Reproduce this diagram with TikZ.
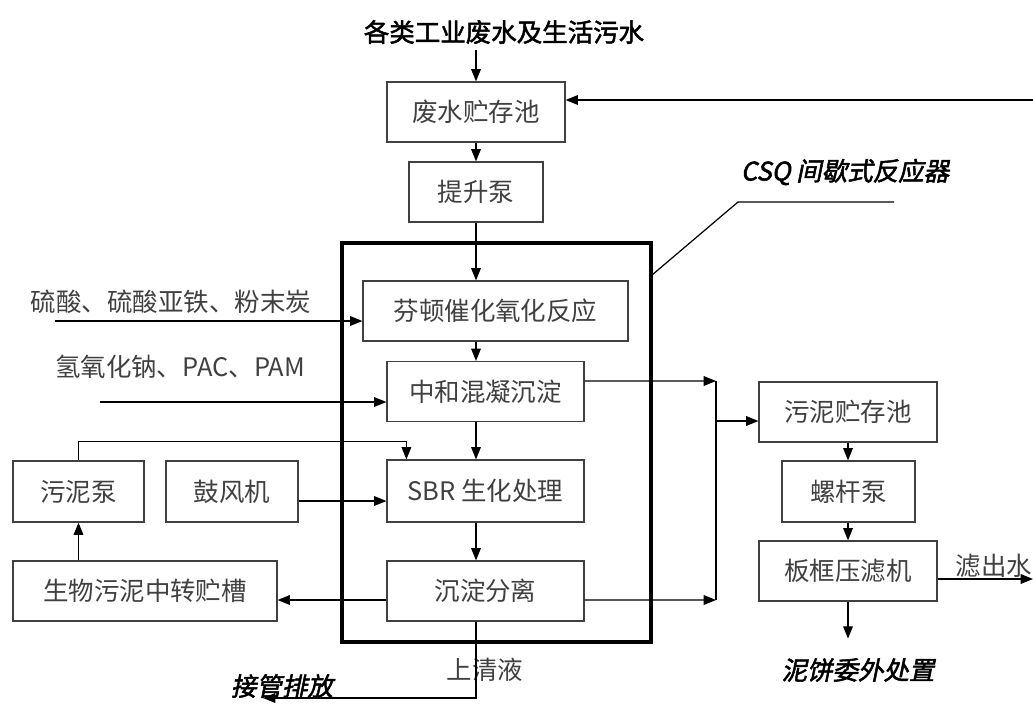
\documentclass[tikz,border=0pt]{standalone}
\usepackage{fontspec}
\setmainfont{Noto Sans CJK SC}
\newfontfamily\cjkb{Noto Sans CJK SC}[FakeBold=2]
\newfontfamily\cjkbi{Noto Sans CJK SC}[FakeBold=2,FakeSlant=0.2]
\usetikzlibrary{arrows.meta}

\begin{document}
\begin{tikzpicture}[x=0.02cm,y=0.02cm,
    txt/.style={text=black!75,font=\fontsize{14.5}{16}\selectfont},
    box/.style={draw=black!75,line width=0.7pt,minimum height=1.2cm,inner sep=0pt,txt},
    flow/.style={line width=0.7pt,-{Triangle[length=7pt,width=5.5pt]}},
    frame/.style={draw,line width=2pt,minimum width=6.18cm,minimum height=7.98cm,inner sep=0pt},
    hd/.style={font=\cjkb\fontsize{14.5}{16}\selectfont},
    hdi/.style={font=\cjkbi\fontsize{14.5}{16}\selectfont}]
        \useasboundingbox (0,0) rectangle (1033,-704);
        \node[frame] (csq) at (496.5,-442.5) {}; % reactor frame
        \node[hd] (src) at (504,-32) {各类工业废水及生活污水};
        \node[box,minimum width=3.56cm] (pool) at (476,-112) {废水贮存池};
        \node[box,minimum width=2.68cm] (lift) at (476,-192) {提升泵};
        \node[box,minimum width=5.3cm] (fenton) at (495.5,-311) {芬顿催化氧化反应};
        \node[box,minimum width=3.94cm] (neut) at (485.5,-391.5) {中和混凝沉淀};
        \node[box,minimum width=3.94cm,minimum height=1.24cm] (sbr) at (485.5,-491) {SBR 生化处理};
        \node[box,minimum width=3.94cm] (settle) at (485.5,-591) {沉淀分离};
        \node[box,minimum width=2.62cm,minimum height=1.22cm] (spump) at (78.5,-491.5) {污泥泵};
        \node[box,minimum width=2.64cm,minimum height=1.22cm] (blower) at (232,-491.5) {鼓风机};
        \node[box,minimum width=5.28cm] (tank) at (145,-591) {生物污泥中转贮槽};
        \node[box,minimum width=3.56cm] (sludge) at (848,-412) {污泥贮存池};
        \node[box,minimum width=2.66cm,minimum height=1.22cm] (screw) at (848.5,-491.5) {螺杆泵};
        \node[box,minimum width=3.56cm] (press) at (848,-571) {板框压滤机};
        % labels
        \node[hdi] (csqlab) at (845,-172) {CSQ 间歇式反应器};
        \node[txt] (acid) at (171,-302) {硫酸、硫酸亚铁、粉末炭};
        \node[txt] (naoh) at (180,-367) {氢氧化钠、PAC、PAM};
        \node[txt] (clear) at (485,-670) {上清液};
        \node[hdi] (drain) at (282,-686) {接管排放};
        \node[txt] (filt) at (994,-566) {滤出水};
        \node[hdi] (cake) at (858,-670) {泥饼委外处置};
        % free ends
        \coordinate (ret) at (1033,-100);
        \coordinate (acidin) at (55,-321);
        \coordinate (naohin) at (100,-402);
        \coordinate (jt) at (716,-381);
        \coordinate (jm) at (716,-421);
        \coordinate (jb) at (716,-600);
        \coordinate (out) at (263,-698);
        \coordinate (fout) at (1033,-579);
        % main line
        \draw[flow] (src.south -| lift.north) -- (lift.north |- pool.north);
        \draw[flow] (lift.north |- pool.south) -- (lift.north);
        \draw[flow] (lift.south) -- (lift.south |- fenton.north);
        \draw[flow] (lift.south |- fenton.south) -- (lift.south |- neut.north);
        \draw[flow] (lift.south |- neut.south) -- (lift.south |- sbr.north);
        \draw[flow] (lift.south |- sbr.south) -- (lift.south |- settle.north);
        \draw[flow] (ret) -- (ret -| pool.east); % return water
        \draw[flow] (acidin) -- (acidin -| fenton.west);
        \draw[flow] (naohin) -- (naohin -| neut.west);
        \draw[flow] ([yshift=-0.19cm]blower.east) -- ([yshift=-0.19cm]blower.east -| sbr.west);
        \draw[flow] (spump.north) -- ++(0,19) -| ([xshift=0.4cm]sbr.north west);
        \draw[flow] (spump.south |- tank.north) -- (spump.south);
        \draw[flow] ([yshift=-0.18cm]settle.west) -- ([yshift=-0.18cm]settle.west -| tank.east);
        \draw[flow] (lift.south |- settle.south) -- (lift.south |- out) -- (out);
        % sludge line
        \draw[flow] ([yshift=0.21cm]neut.east) -- (jt);
        \draw[flow] ([yshift=-0.18cm]settle.east) -- (jb);
        \draw[line width=0.7pt] (jt) -- (jb);
        \draw[flow] (jm) -- (jm -| sludge.west);
        \draw[flow] (sludge.south) -- (sludge.south |- screw.north);
        \draw[flow] (sludge.south |- screw.south) -- (sludge.south |- press.north);
        \draw[flow] (fout -| press.east) -- (fout);
        \draw[flow] (press.south) -- ++(0,-37);
        \draw[line width=0.7pt] (csq.north east |- fenton.north) ++(0,6) -- (738,-202) -- (894,-202); % leader
\end{tikzpicture}
\end{document}
